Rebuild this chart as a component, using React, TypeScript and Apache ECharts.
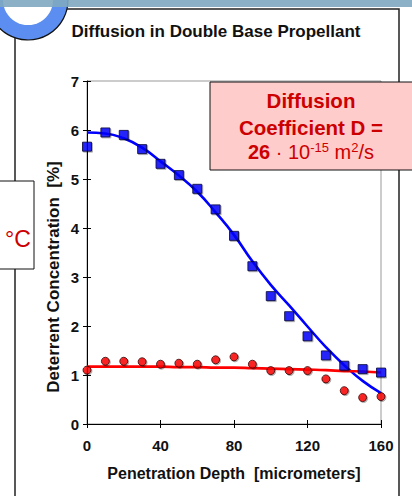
import React, { useEffect, useRef } from "react";
import * as echarts from "echarts";

const depth = [0, 10, 20, 30, 40, 50, 60, 70, 80, 90, 100, 110, 120, 130, 140, 150, 160];
const blueMeasured = [5.66, 5.95, 5.9, 5.61, 5.31, 5.08, 4.8, 4.38, 3.84, 3.22, 2.61, 2.2, 1.79, 1.4, 1.19, 1.12, 1.05];
const redMeasured = [1.1, 1.28, 1.28, 1.27, 1.22, 1.24, 1.22, 1.31, 1.37, 1.22, 1.09, 1.09, 1.09, 0.92, 0.68, 0.54, 0.56];
const blueFit = [5.95, 5.93, 5.83, 5.64, 5.36, 5.07, 4.74, 4.32, 3.86, 3.32, 2.84, 2.42, 1.99, 1.57, 1.2, 0.88, 0.63];
const redFit = [1.17, 1.17, 1.17, 1.17, 1.17, 1.16, 1.16, 1.15, 1.15, 1.14, 1.13, 1.12, 1.11, 1.1, 1.08, 1.07, 1.05];
const xTicks = { min: 0, max: 160, interval: 40 };
const yTicks = { min: 0, max: 7, interval: 1 };

const FONT = '"Liberation Sans", Arial, Helvetica, sans-serif';
const RED = "#cc0000";

const pairs = (xs: number[], ys: number[]) => xs.map((x, i) => [x, ys[i]]);

export default function App() {
  const ref = useRef<HTMLDivElement>(null);
  useEffect(() => {
    document.body.style.margin = "0";
    const chart = echarts.init(ref.current!, null, { renderer: "svg" });
    const axisLabel = { fontSize: 15, fontWeight: "bold", color: "#111", fontFamily: FONT };
    const shadow = { shadowColor: "rgba(0,0,0,0.35)", shadowOffsetX: 1, shadowOffsetY: 1, shadowBlur: 1 };
    chart.setOption({
      animation: false,
      grid: { left: 87, right: 31, top: 81, bottom: 72, show: true, borderColor: "#999", borderWidth: 1 },
      xAxis: [
        {
          type: "value", ...xTicks,
          axisLine: { show: true, lineStyle: { color: "#000", width: 1 } },
          axisTick: { show: true, length: 4, lineStyle: { color: "#000" } },
          axisLabel: { ...axisLabel, margin: 14 },
          splitLine: { show: false },
        },
        {
          type: "value", ...xTicks, position: "bottom",
          axisLine: { show: false },
          axisTick: { show: true, inside: true, length: 4, lineStyle: { color: "#000" } },
          axisLabel: { show: false },
          splitLine: { show: false },
        },
      ],
      yAxis: [
        {
          type: "value", ...yTicks,
          axisLine: { show: true, lineStyle: { color: "#000", width: 1 } },
          axisTick: { show: true, length: 4, lineStyle: { color: "#000" } },
          axisLabel: { ...axisLabel, margin: 8 },
          splitLine: { show: false },
        },
        {
          type: "value", ...yTicks, position: "left",
          axisLine: { show: false },
          axisTick: { show: true, inside: true, length: 4, lineStyle: { color: "#000" } },
          axisLabel: { show: false },
          splitLine: { show: false },
        },
      ],
      series: [
        {
          type: "line", data: pairs(depth, blueFit), smooth: true, showSymbol: false, z: 2,
          lineStyle: { color: "#0000ff", width: 2.6 },
        },
        {
          type: "line", data: pairs(depth, redFit), smooth: true, showSymbol: false, z: 2,
          lineStyle: { color: "#ff0000", width: 2.6 },
        },
        {
          type: "scatter", data: pairs(depth, blueMeasured), symbol: "rect", symbolSize: 9, z: 4,
          itemStyle: { color: "#0000ff", borderColor: "#000033", borderWidth: 1, ...shadow },
        },
        {
          type: "scatter", data: pairs(depth, redMeasured), symbol: "circle", symbolSize: 8, z: 4,
          itemStyle: { color: "#ff0000", borderColor: "#330000", borderWidth: 1, ...shadow },
        },
      ],
      graphic: [
        { type: "rect", z: 0, shape: { x: 15, y: 9, width: 384, height: 520 }, style: { fill: "none", stroke: "#222", lineWidth: 1.5 } },
        { type: "circle", z: 1, shape: { cx: 28, cy: 0, r: 40 }, style: { fill: "#5b8ef0", stroke: "#111", lineWidth: 1.2 } },
        { type: "circle", z: 1, shape: { cx: 28, cy: 0, r: 25 }, style: { fill: "#ffffff" } },
        { type: "rect", z: 2, shape: { x: 0, y: 0, width: 412, height: 7 }, style: { fill: "#7fa8c0", opacity: 0.9 } },
        { type: "rect", z: 3, shape: { x: -2, y: 181, width: 36, height: 88 }, style: { fill: "#fff", stroke: "#111", lineWidth: 1 } },
        { type: "text", z: 4, x: 18, y: 239, style: { text: "°C", fontSize: 23, fontFamily: FONT, fill: RED, align: "center", verticalAlign: "middle" } },
        { type: "text", z: 4, x: 216, y: 31, style: { text: "Diffusion in Double Base Propellant", fontSize: 17, fontWeight: "bold", fontFamily: FONT, fill: "#111", align: "center", verticalAlign: "middle" } },
        { type: "text", z: 4, x: 234, y: 473, style: { text: "Penetration Depth \u00a0[micrometers]", fontSize: 16, fontWeight: "bold", fontFamily: FONT, fill: "#111", align: "center", verticalAlign: "middle" } },
        { type: "text", z: 4, x: 53, y: 277, rotation: Math.PI / 2, style: { text: "Deterrent Concentration \u00a0[%]", fontSize: 17, fontWeight: "bold", fontFamily: FONT, fill: "#111", align: "center", verticalAlign: "middle" } },
        { type: "rect", z: 10, shape: { x: 210, y: 82, width: 210, height: 88 }, style: { fill: "#ffcccc", stroke: "#111", lineWidth: 1 } },
        { type: "text", z: 11, x: 311, y: 100, style: { text: "Diffusion", fontSize: 20.5, fontWeight: "bold", fontFamily: FONT, fill: RED, align: "center", verticalAlign: "middle" } },
        { type: "text", z: 11, x: 311, y: 127, style: { text: "Coefficient D =", fontSize: 20.5, fontWeight: "bold", fontFamily: FONT, fill: RED, align: "center", verticalAlign: "middle" } },
        {
          type: "text", z: 11, x: 311, y: 152,
          style: {
            text: "{b|26}{n| · 10}{s|-15}{n| m}{s|2}{n|/s}",
            align: "center", verticalAlign: "middle", fontFamily: FONT, fill: RED,
            rich: {
              b: { fontSize: 20, fontWeight: "bold", fontFamily: FONT, fill: RED, lineHeight: 22 },
              n: { fontSize: 20, fontFamily: FONT, fill: RED, lineHeight: 22 },
              s: { fontSize: 13, fontFamily: FONT, fill: RED, verticalAlign: "top", lineHeight: 22 },
            },
          },
        },
      ],
    });
    return () => chart.dispose();
  }, []);
  return <div ref={ref} style={{ width: 412, height: 496 }} />;
}
